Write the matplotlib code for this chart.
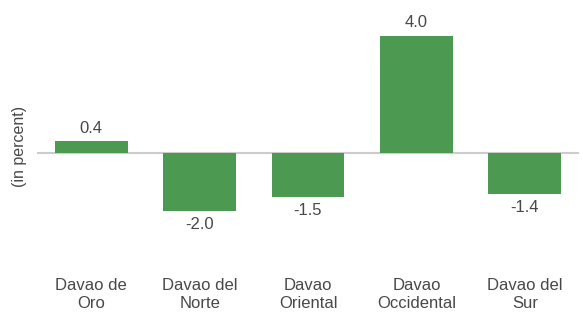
import numpy as np
import matplotlib.pyplot as plt

plt.rcParams['font.family'] = ['Liberation Sans', 'DejaVu Sans']

provinces = ['Davao de\nOro', 'Davao del\nNorte', 'Davao\nOriental', 'Davao\nOccidental', 'Davao del\nSur']
growth = [0.4, -2.0, -1.5, 4.0, -1.4]

green = '#4c9a52'
txt = '#484848'

fig = plt.figure(figsize=(5.82, 3.13), dpi=100)
# axes spans px x 37..579, y 0..250 (zero line at y=153)
ax = fig.add_axes([37/582, 1-250/313, 542/582, 250/313])

x = np.arange(len(provinces))
bars = ax.bar(x, growth, width=0.67, color=green, zorder=2)
ax.axhline(0, color='#cccccc', lw=1.5, zorder=1)

for b, v in zip(bars, growth):
    if v >= 0:
        ax.text(b.get_x()+b.get_width()/2, v+0.2, f'{v:.1f}', ha='center', va='bottom',
                fontsize=12, color=txt)
    else:
        ax.text(b.get_x()+b.get_width()/2, v-0.2, f'{v:.1f}', ha='center', va='top',
                fontsize=12, color=txt)

ax.set_xlim(-0.5, 4.5)
ax.set_ylim(-3.32, 5.24)
ax.set_xticks(x)
ax.set_xticklabels(provinces, fontsize=12, color=txt, linespacing=1.25)
ax.tick_params(axis='x', length=0, pad=20)
ax.set_yticks([])
for s in ax.spines.values():
    s.set_visible(False)

fig.text(20/582, 1-146/313, '(in percent)', rotation=90, ha='center', va='center',
         fontsize=11.5, color=txt)

fig.savefig('out.png', dpi=100)
